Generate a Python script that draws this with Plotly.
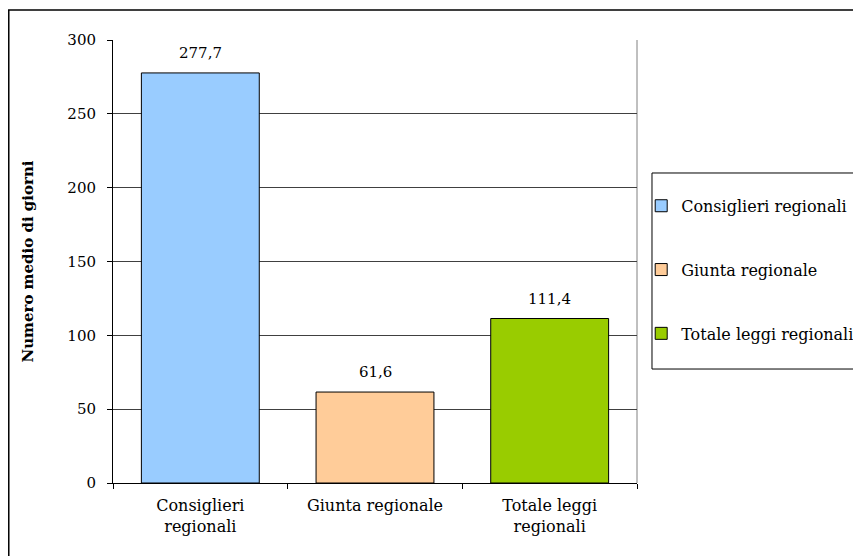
import plotly.graph_objects as go

categories = ["Consiglieri<br>regionali", "Giunta regionale", "Totale leggi<br>regionali"]
legend_names = ["Consiglieri regionali", "Giunta regionale", "Totale leggi regionali"]
values = [277.7, 61.6, 111.4]
value_labels = ["277,7", "61,6", "111,4"]
colors = ["#99CCFF", "#FFCC99", "#99CC00"]
y_ticks = [0, 50, 100, 150, 200, 250, 300]

FONT = "Georgia, 'DejaVu Serif', serif"

fig = go.Figure()
for i, (cat, name, val, col) in enumerate(zip(categories, legend_names, values, colors)):
    fig.add_trace(
        go.Bar(
            x=[cat],
            y=[val],
            name=name,
            legendgroup=f"g{i}",
            width=0.675,
            marker=dict(color=col, line=dict(color="#000000", width=1)),
            hoverinfo="skip",
        )
    )
    fig.add_annotation(
        x=cat, y=val, text=value_labels[i], showarrow=False,
        yanchor="bottom", yshift=9, font=dict(family=FONT, size=15, color="#000000"),
    )

fig.update_layout(
    width=861,
    height=556,
    paper_bgcolor="#ffffff",
    plot_bgcolor="#ffffff",
    barmode="overlay",
    font=dict(family=FONT, size=15, color="#000000"),
    margin=dict(l=105, r=232, t=32, b=81, autoexpand=False),
    showlegend=True,
    legend=dict(
        x=1.008, y=0.664, xanchor="left", yanchor="top",
        borderwidth=0, bgcolor="rgba(0,0,0,0)",
        font=dict(family=FONT, size=16, color="#000000"),
        tracegroupgap=40,
    ),
    xaxis=dict(
        showline=True, linecolor="#000000", linewidth=1,
        ticks="outside", ticklen=5, tickcolor="#000000",
        tickson="boundaries", showgrid=False,
        ticklabelstandoff=8,
        tickfont=dict(family=FONT, size=16),
    ),
    yaxis=dict(
        range=[0, 300], tickvals=y_ticks,
        showline=True, linecolor="#000000", linewidth=1,
        ticks="outside", ticklen=5, tickcolor="#000000",
        showgrid=True, gridcolor="#404040", gridwidth=1,
        zeroline=False,
        ticklabelstandoff=8,
        tickfont=dict(family=FONT, size=15),
        title=dict(text="<b>Numero medio di giorni</b>", font=dict(family=FONT, size=15), standoff=30),
    ),
    shapes=[
        dict(type="line", xref="x domain", yref="y domain", x0=1, x1=1, y0=0, y1=1,
             line=dict(color="#808080", width=1), layer="below"),
        dict(type="rect", xref="paper", yref="paper", x0=-0.1989, x1=1.5, y0=-0.2, y1=1.0677,
             line=dict(color="#000000", width=1.5), fillcolor="rgba(0,0,0,0)"),
        dict(type="rect", xref="paper", yref="paper", x0=1.0286, x1=1.5, y0=0.2573, y1=0.6998,
             line=dict(color="#000000", width=1), fillcolor="rgba(0,0,0,0)"),
    ],
)

fig.write_html("out.html")
